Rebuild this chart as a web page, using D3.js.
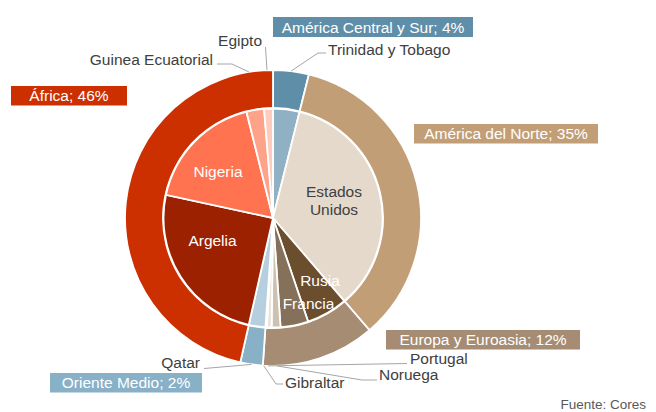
<!DOCTYPE html>
<html>
<head>
<meta charset="utf-8">
<script src="https://cdn.jsdelivr.net/npm/d3@7"></script>
<style>
  body { margin: 0; background: #fff; }
  svg { display: block; font-family: "Liberation Sans", Arial, sans-serif; }
</style>
</head>
<body>
<svg id="chart" width="656" height="412"></svg>
<script>
// shares of imports (%), clockwise from 12 o'clock
var regions = ['América Central y Sur', 'América del Norte', 'Europa y Euroasia', 'Oriente Medio', 'África'];
var regionColors = ['#5f8ea9', '#c29e77', '#a58c72', '#88b0c7', '#cc3000'];

var countries = ['Trinidad y Tobago', 'Estados Unidos', 'Rusia', 'Francia', 'Noruega', 'Portugal', 'Gibraltar',
  'Qatar', 'Argelia', 'Nigeria', 'Guinea Ecuatorial', 'Egipto'];
var countryRegion = [0, 1, 2, 2, 2, 2, 2, 3, 4, 4, 4, 4];
var countryValues = [3.9, 34.8, 6.1, 4.1, 1.3, 0.7, 0.2, 2.45, 24.85, 17.7, 2.6, 1.3];
var countryColors = ['#90b0c4', '#e5d9cb', '#6b4e2e', '#85705a', '#cfc1af', '#e9e3dc', '#f2eee9',
  '#b5cfdf', '#9c2100', '#ff7350', '#ffa28a', '#ffcbbd'];

var source = 'Fuente: Cores';

// region totals from the countries
var regionValues = regions.map(function(r, i) {
  return d3.sum(countryValues.filter(function(v, j) { return countryRegion[j] === i; }));
});
var total = d3.sum(regionValues);

var cx = 273, cy = 218;
var rOuter = 148, rRing = 110, rPie = 109.5;
var fs = 15.5;

// label placement, taken by eye from the layout
var regionBoxes = [
  { x: 273, y: 17, w: 200, h: 20 },
  { x: 414, y: 124, w: 184, h: 19.5 },
  { x: 386, y: 330, w: 194, h: 19.5 },
  { x: 50, y: 373, w: 152, h: 19.5 },
  { x: 11, y: 86, w: 116, h: 19.5 }
];

var innerLabels = {
  'Estados Unidos': { x: 334, y: 197, lines: ['Estados', 'Unidos'], fill: '#404040' },
  'Rusia': { x: 320, y: 286, fill: '#fff' },
  'Francia': { x: 308.5, y: 309, fill: '#fff' },
  'Argelia': { x: 212.5, y: 246, fill: '#fff' },
  'Nigeria': { x: 218, y: 177, fill: '#fff' }
};

var outerLabels = {
  'Egipto': { x: 262, y: 46, anchor: 'end', path: [[265.5, 47]] },
  'Trinidad y Tobago': { x: 328, y: 55, anchor: 'start', path: [[326, 53], [318, 53]] },
  'Guinea Ecuatorial': { x: 213, y: 65, anchor: 'end', path: [[217, 64], [232, 64]] },
  'Qatar': { x: 200, y: 368, anchor: 'end', path: [[204, 368.5]] },
  'Gibraltar': { x: 285, y: 388, anchor: 'start', path: [[283, 384], [276, 384]] },
  'Noruega': { x: 379, y: 380, anchor: 'start', path: [[377, 380], [362, 380]] },
  'Portugal': { x: 410, y: 364, anchor: 'start', path: [[407, 363.5]] }
};

var svg = d3.select('#chart');
var g = svg.append('g').attr('transform', 'translate(' + cx + ',' + cy + ')');

var pie = d3.pie().sort(null).value(function(d) { return d; });

var ringArcs = pie(regionValues);
var pieArcs = pie(countryValues);

var ringArc = d3.arc().innerRadius(rRing).outerRadius(rOuter);
var pieArc = d3.arc().innerRadius(0).outerRadius(rPie);

g.selectAll('path.ring')
  .data(ringArcs)
  .join('path')
  .attr('class', 'ring')
  .attr('d', ringArc)
  .attr('fill', function(d, i) { return regionColors[i]; })
  .attr('stroke', '#fff')
  .attr('stroke-width', 1.8);

g.selectAll('path.slice')
  .data(pieArcs)
  .join('path')
  .attr('class', 'slice')
  .attr('d', pieArc)
  .attr('fill', function(d, i) { return countryColors[i]; })
  .attr('stroke', '#fff')
  .attr('stroke-width', 1.8);

// leader lines end on the outer edge at the slice's mid angle
function edgePoint(d) {
  var a = (d.startAngle + d.endAngle) / 2;
  return [cx + rOuter * Math.sin(a), cy - rOuter * Math.cos(a)];
}

var line = d3.line();

pieArcs.forEach(function(d, i) {
  var name = countries[i];
  var lab = outerLabels[name];
  if (!lab) return;
  var pts = lab.path.concat([edgePoint(d)]);
  svg.append('path')
    .attr('d', line(pts))
    .attr('fill', 'none')
    .attr('stroke', '#a6a6a6')
    .attr('stroke-width', 1);
  svg.append('text')
    .attr('x', lab.x)
    .attr('y', lab.y)
    .attr('text-anchor', lab.anchor)
    .attr('font-size', fs)
    .attr('fill', '#404040')
    .text(name);
});

// labels inside the pie
countries.forEach(function(name) {
  var lab = innerLabels[name];
  if (!lab) return;
  var t = svg.append('text')
    .attr('x', lab.x)
    .attr('y', lab.y)
    .attr('text-anchor', 'middle')
    .attr('font-size', fs)
    .attr('fill', lab.fill);
  (lab.lines || [name]).forEach(function(s, k) {
    t.append('tspan').attr('x', lab.x).attr('dy', k ? 18 : 0).text(s);
  });
});

// region boxes
regions.forEach(function(name, i) {
  var b = regionBoxes[i];
  var pct = Math.round(regionValues[i] / total * 100);
  svg.append('rect')
    .attr('x', b.x).attr('y', b.y)
    .attr('width', b.w).attr('height', b.h)
    .attr('fill', regionColors[i]);
  svg.append('text')
    .attr('x', b.x + b.w / 2)
    .attr('y', b.y + b.h / 2 + 5.5)
    .attr('text-anchor', 'middle')
    .attr('font-size', fs)
    .attr('fill', '#fff')
    .text(name + '; ' + pct + '%');
});

svg.append('text')
  .attr('x', 646)
  .attr('y', 409)
  .attr('text-anchor', 'end')
  .attr('font-size', 13.5)
  .attr('fill', '#595959')
  .text(source);
</script>
</body>
</html>
